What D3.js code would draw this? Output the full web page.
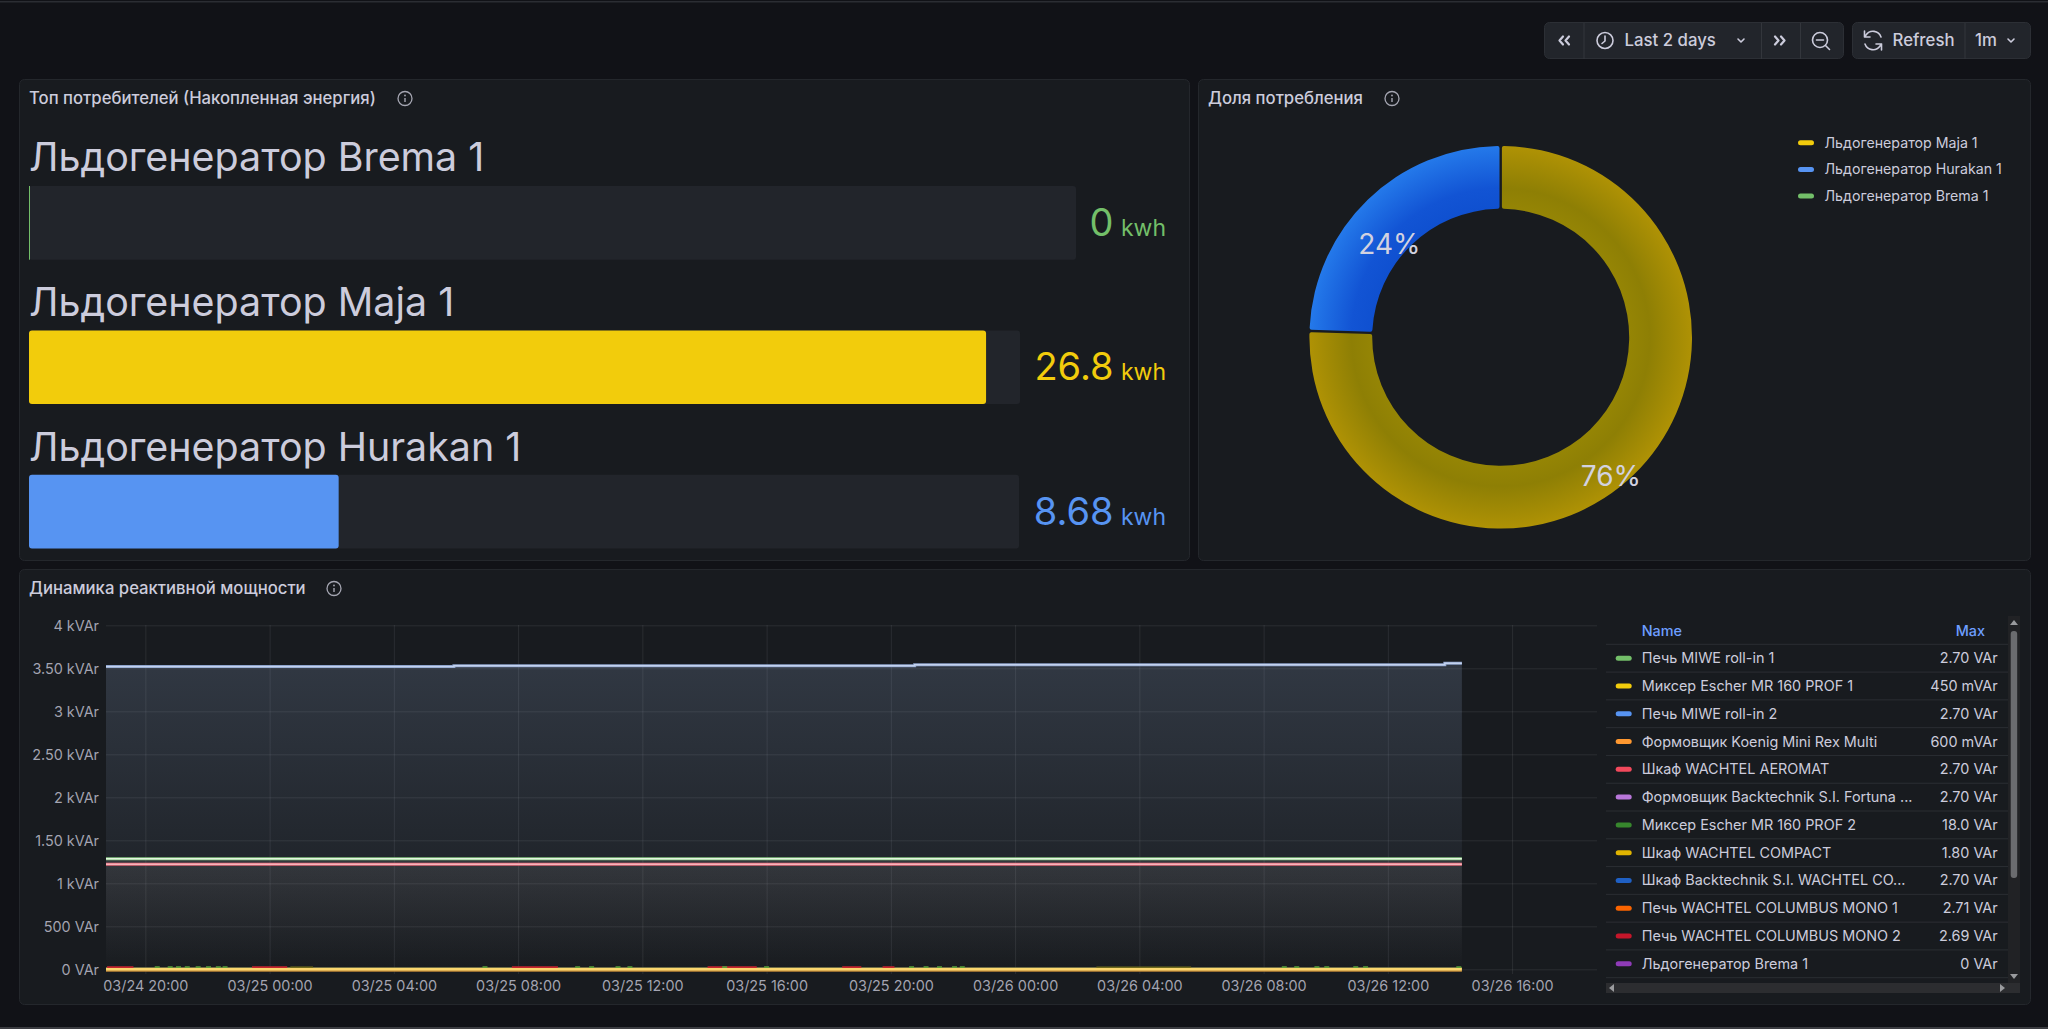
<!DOCTYPE html>
<html lang="ru">
<head>
<meta charset="utf-8">
<title>Энергопотребление</title>
<script src="https://cdn.jsdelivr.net/npm/d3@7/dist/d3.min.js"></script>
<style>
  html, body { margin: 0; padding: 0; background: #111217; overflow: hidden; }
  svg { display: block; font-family: Inter, "Noto Sans", sans-serif; }
  .axis path { display: none; }
  .axis line { stroke: #ccccdc; stroke-opacity: 0.1; }
  .axis text { fill: #ccccdc; fill-opacity: 0.78; font-size: 14.4px; font-family: Inter, sans-serif; }
</style>
</head>
<body>
<script>
// Accumulated energy per ice maker, kWh
const gaugeNames = ["Льдогенератор Brema 1", "Льдогенератор Maja 1", "Льдогенератор Hurakan 1"];
const gaugeValues = [0, 26.8, 8.68];
const gaugeLabels = ["0", "26.8", "8.68"];
const gaugeColors = ["#73bf69", "#f2cc0c", "#5794f2"];
const gaugeUnit = "kwh";
const gaugeMax = 27.75;

// Share of consumption
const shareNames = ["Льдогенератор Maja 1", "Льдогенератор Hurakan 1", "Льдогенератор Brema 1"];
const shareValues = [26.8, 8.68, 0];
const shareColors = ["#f2cc0c", "#5794f2", "#73bf69"];

// Reactive power over time, VAr
const timeDomain = ["03/24 18:44", "03/26 18:44"];
const timeTicks = ["03/24 20:00", "03/25 00:00", "03/25 04:00", "03/25 08:00", "03/25 12:00", "03/25 16:00",
  "03/25 20:00", "03/26 00:00", "03/26 04:00", "03/26 08:00", "03/26 12:00", "03/26 16:00"];
const powerTicks = [0, 500, 1000, 1500, 2000, 2500, 3000, 3500, 4000];
const powerTickLabels = ["0 VAr", "500 VAr", "1 kVAr", "1.50 kVAr", "2 kVAr", "2.50 kVAr", "3 kVAr", "3.50 kVAr", "4 kVAr"];

const totalTimes = ["03/24 18:44", "03/25 05:56", "03/25 20:46", "03/26 13:50", "03/26 14:23"];
const totalValues = [3520, 3530, 3542, 3558, 3558];
const flatTimes = ["03/24 18:44", "03/26 14:23"];
const upperFlat = [1286, 1286];
const lowerFlat = [1222, 1222];
const smallLoadUpper = [13, 13];
const smallLoadMiddle = [0, 0];
const smallLoadLower = [-15, -15];

// Short loads near zero: bursts of the red series, blips of the green one
const redBursts = [["03/24 18:46", "03/24 19:37"], ["03/24 23:26", "03/25 00:34"], ["03/25 07:48", "03/25 09:17"],
  ["03/25 14:06", "03/25 15:41"], ["03/25 18:26", "03/25 19:03"], ["03/25 19:44", "03/25 20:07"]];
const mixedBursts = [["03/25 00:40", "03/25 01:24"], ["03/26 02:37", "03/26 05:40"]];
const greenBlips = ["03/24 20:23", "03/24 20:48", "03/24 21:04", "03/24 21:21", "03/24 21:42", "03/24 22:02",
  "03/24 22:21", "03/24 22:34", "03/25 06:56", "03/25 09:55", "03/25 10:22", "03/25 11:13", "03/25 11:36",
  "03/25 14:39", "03/25 16:00", "03/25 20:40", "03/25 21:08", "03/25 21:34", "03/25 22:03", "03/25 22:18",
  "03/26 08:40", "03/26 09:04", "03/26 09:43", "03/26 10:02", "03/26 10:58", "03/26 11:17", "03/26 14:17"];
const blipValue = 24;

// Legend table
const legendNames = ["Печь MIWE roll-in 1", "Миксер Escher MR 160 PROF 1", "Печь MIWE roll-in 2",
  "Формовщик Koenig Mini Rex Multi", "Шкаф WACHTEL AEROMAT", "Формовщик Backtechnik S.I. Fortuna ...",
  "Миксер Escher MR 160 PROF 2", "Шкаф WACHTEL COMPACT", "Шкаф Backtechnik S.I. WACHTEL CO...",
  "Печь WACHTEL COLUMBUS MONO 1", "Печь WACHTEL COLUMBUS MONO 2", "Льдогенератор Brema 1"];
const legendMax = ["2.70 VAr", "450 mVAr", "2.70 VAr", "600 mVAr", "2.70 VAr", "2.70 VAr",
  "18.0 VAr", "1.80 VAr", "2.70 VAr", "2.71 VAr", "2.69 VAr", "0 VAr"];
const legendColors = ["#73bf69", "#f2cc0c", "#5794f2", "#ff9830", "#f2495c", "#b877d9",
  "#37872d", "#e0b400", "#1f60c4", "#fa6400", "#c4162a", "#8f3bb8"];

const TEXT = "#ccccdc";
const svg = d3.select("body").append("svg").attr("width", 2048).attr("height", 1029);
const defs = svg.append("defs");

svg.append("rect").attr("width", 2048).attr("height", 1029).attr("fill", "#111217");
svg.append("rect").attr("y", 1).attr("width", 2048).attr("height", 1.5).attr("fill", "#2b2d33");
svg.append("rect").attr("y", 1027).attr("width", 2048).attr("height", 2).attr("fill", "#3b3c41");

function panel(x, y, w, h, title, iconX) {
  svg.append("rect").attr("x", x + .5).attr("y", y + .5).attr("width", w).attr("height", h).attr("rx", 5)
    .attr("fill", "#181b1f").attr("stroke", "#24272c");
  svg.append("text").attr("x", x + 10).attr("y", y + 25.2).attr("fill", TEXT)
    .attr("font-size", 16.7).attr("font-weight", 500).text(title);
  const cy = y + 19.5;
  const icon = svg.append("g").attr("transform", `translate(${iconX},${cy})`);
  icon.append("circle").attr("r", 7).attr("fill", "none").attr("stroke", "#a5a6b2").attr("stroke-width", 1.3);
  icon.append("line").attr("y1", -0.5).attr("y2", 3.5).attr("stroke", "#a5a6b2").attr("stroke-width", 1.4);
  icon.append("circle").attr("cy", -3).attr("r", .9).attr("fill", "#a5a6b2");
}

panel(19, 79, 1170, 481, "Топ потребителей (Накопленная энергия)", 405);
panel(1198, 79, 832, 481, "Доля потребления", 1392);
panel(19, 569, 2011, 435, "Динамика реактивной мощности", 334);

/* ---------- toolbar ---------- */
function group(x0, x1, seps) {
  svg.append("rect").attr("x", x0 + .5).attr("y", 22.5).attr("width", x1 - x0).attr("height", 36).attr("rx", 5)
    .attr("fill", "#22252b").attr("stroke", "#2c2f35");
  seps.forEach(s => svg.append("line").attr("x1", s).attr("x2", s).attr("y1", 23).attr("y2", 59).attr("stroke", "#33363c"));
}
function stroke(sel, w) {
  return sel.attr("fill", "none").attr("stroke", TEXT).attr("stroke-width", w || 1.6)
    .attr("stroke-linecap", "round").attr("stroke-linejoin", "round");
}
group(1544, 1843, [1584, 1761.5, 1800.5]);
group(1852, 2030, [1965]);
stroke(svg.append("path"), 2.2).attr("d", "M1563 36.500l-3.500 4 3.500 4M1569 36.500l-3.500 4 3.500 4");
stroke(svg.append("path"), 2.2).attr("d", "M1778 36.500l3.500 4-3.500 4M1772 36.500l3.500 4-3.500 4").attr("transform", "translate(3,0)");
stroke(svg.append("circle")).attr("cx", 1605).attr("cy", 40.5).attr("r", 8);
stroke(svg.append("path")).attr("d", "M1605 36v5l-3 2.5");
const toolFont = 16.8;
svg.append("text").attr("x", 1624.5).attr("y", 46).attr("fill", TEXT).attr("font-size", toolFont).attr("font-weight", 500).text("Last 2 days");
stroke(svg.append("path")).attr("d", "M1738 39l3 3 3-3");
stroke(svg.append("circle")).attr("cx", 1820).attr("cy", 40).attr("r", 7.5);
stroke(svg.append("path")).attr("d", "M1816.5 40h7M1825.5 45.5l4 4");
stroke(svg.append("path")).attr("d", "M1881 37a8.5 8.5 0 0 0-15-2l-1.500 2M1864.500 31v6h5.500M1865 44a8.500 8.500 0 0 0 15 2l1.500-2M1881.500 50v-6h-5.500");
svg.append("text").attr("x", 1892.5).attr("y", 46).attr("fill", TEXT).attr("font-size", toolFont).attr("font-weight", 500).text("Refresh");
svg.append("text").attr("x", 1975).attr("y", 46).attr("fill", TEXT).attr("font-size", toolFont).attr("font-weight", 500).text("1m");
stroke(svg.append("path")).attr("d", "M2008 39l3 3 3-3");

/* ---------- gauges ---------- */
const trackLeft = 29;
const trackRights = [1076, 1020, 1019];
const rowBand = d3.scaleBand().domain(gaugeNames)
  .range([186, 186 + 144.4 * 2 + 73.7]).paddingInner(1 - 73.7 / 144.4);
gaugeNames.forEach((name, i) => {
  const y = rowBand(name), h = rowBand.bandwidth();
  const width = trackRights[i] - trackLeft;
  const gx = d3.scaleLinear().domain([0, gaugeMax]).range([0, width]);
  svg.append("text").attr("x", 29).attr("y", y - 15 + i * 0.5).attr("fill", TEXT).attr("font-size", 39.4).text(name);
  svg.append("rect").attr("x", trackLeft).attr("y", y).attr("width", width).attr("height", h).attr("rx", 3).attr("fill", "#22252b");
  svg.append("rect").attr("x", trackLeft).attr("y", y).attr("width", Math.max(gx(gaugeValues[i]), 1)).attr("height", h)
    .attr("rx", gaugeValues[i] ? 3 : 0).attr("fill", gaugeColors[i]);
  svg.append("text").attr("x", 1113.5).attr("y", y + 50).attr("text-anchor", "end").attr("fill", gaugeColors[i])
    .attr("font-size", 38).text(gaugeLabels[i]);
  svg.append("text").attr("x", 1121).attr("y", y + 50).attr("fill", gaugeColors[i]).attr("font-size", 23).text(gaugeUnit);
});

/* ---------- donut ---------- */
const cx = 1500.7, cy = 337.3, rOuter = 191.3, rInner = 128.5;
const pie = d3.pie().sort(null).value(d => d)(shareValues);
const arc = d3.arc().innerRadius(rInner).outerRadius(rOuter).cornerRadius(2).padAngle(0.016).padRadius(150);
const labelArc = d3.arc().innerRadius(160).outerRadius(160);
const ringStops = [
  [["#958505", 0.67], ["#8e7f05", 0.78], ["#af9205", 1]],
  [["#0f50d0", 0.67], ["#1254d4", 0.78], ["#2479ea", 1]],
  [["#4b8a44", 0.67], ["#73bf69", 1]]
];
ringStops.forEach((stops, i) => {
  const g = defs.append("radialGradient").attr("id", "ring" + i).attr("gradientUnits", "userSpaceOnUse")
    .attr("cx", 0).attr("cy", 0).attr("r", rOuter);
  stops.forEach(s => g.append("stop").attr("offset", s[1]).attr("stop-color", s[0]));
});
const donut = svg.append("g").attr("transform", `translate(${cx},${cy})`);
donut.selectAll("path").data(pie.filter(d => d.value > 0)).join("path")
  .attr("d", arc).attr("fill", d => `url(#ring${d.index})`);
const total = d3.sum(shareValues);
donut.selectAll("text").data(pie.filter(d => d.value > 0)).join("text")
  .attr("x", d => labelArc.centroid(d)[0] + (d.index ? 0 : -1)).attr("y", d => labelArc.centroid(d)[1] + (d.index ? 32 : 34))
  .attr("text-anchor", "middle").attr("fill", "#d2d2e0").attr("font-size", 28)
  .text(d => d3.format(".0%")(d.value / total));

const pieLegend = svg.append("g");
shareNames.forEach((n, i) => {
  const y = 142.7 + i * 26.7;
  pieLegend.append("rect").attr("x", 1798).attr("y", y - 2.5).attr("width", 16).attr("height", 5).attr("rx", 2.5).attr("fill", shareColors[i]);
  pieLegend.append("text").attr("x", 1824.5).attr("y", y + 5).attr("fill", TEXT).attr("font-size", 14.2).text(n);
});

/* ---------- time series ---------- */
const parseT = d3.utcParse("%Y/%m/%d %H:%M");
const t = s => parseT("2025/" + s);
const x = d3.scaleUtc().domain(timeDomain.map(t)).range([106, 1597]);
const y = d3.scaleLinear().domain([0, 4000]).range([969.3, 625.3]);

const yAxis = d3.axisLeft(y).tickValues(powerTicks).tickSize(0)
  .tickFormat((d, i) => powerTickLabels[i]);
const yg = svg.append("g").attr("class", "axis").attr("transform", "translate(106,0)").call(yAxis);
yg.selectAll("text").attr("x", -7).attr("dy", "0.39em");
yg.selectAll("line").attr("x1", 0).attr("x2", 1491);

const xAxis = d3.axisBottom(x).tickValues(timeTicks.map(t)).tickSize(0).tickFormat(d3.utcFormat("%m/%d %H:%M"));
const xg = svg.append("g").attr("class", "axis").attr("transform", "translate(0,974)").call(xAxis);
xg.selectAll("line").attr("y1", -349).attr("y2", 0);
xg.selectAll("text").attr("y", 7);

function fade(id, top, bottom, color, a0, a1) {
  const g = defs.append("linearGradient").attr("id", id).attr("gradientUnits", "userSpaceOnUse")
    .attr("x1", 0).attr("x2", 0).attr("y1", top).attr("y2", bottom);
  g.append("stop").attr("offset", 0).attr("stop-color", color).attr("stop-opacity", a0);
  g.append("stop").attr("offset", 1).attr("stop-color", color).attr("stop-opacity", a1);
}
fade("fadeTotal", y(3558), y(0), "#a9c4f0", 0.17, 0);
fade("fadeFlat", y(1286), y(0), "#e6dcd8", 0.1, 0);

const areaOf = (times, values) => d3.area().curve(d3.curveStepAfter)
  .x((d, i) => x(t(times[i]))).y0(y(0)).y1(d => y(d))(values);
const lineOf = (times, values) => d3.line().curve(d3.curveStepAfter)
  .x((d, i) => x(t(times[i]))).y(d => y(d))(values);

svg.append("path").attr("d", areaOf(totalTimes, totalValues)).attr("fill", "url(#fadeTotal)");
svg.append("path").attr("d", areaOf(flatTimes, upperFlat)).attr("fill", "url(#fadeFlat)");

function drawLine(times, values, color, width) {
  svg.append("path").attr("d", lineOf(times, values)).attr("fill", "none").attr("stroke", color).attr("stroke-width", width);
}
drawLine(totalTimes, totalValues, "#8ea4cc", 3);
drawLine(totalTimes, totalValues, "#c3d2ee", 1.4);
drawLine(flatTimes, upperFlat, "#86c882", 3);
drawLine(flatTimes, upperFlat, "#e4f5de", 1.4);
drawLine(flatTimes, lowerFlat, "#ea6a7a", 3);
drawLine(flatTimes, lowerFlat, "#f7b4bb", 1.4);

drawLine(flatTimes, smallLoadUpper, "#8d8a52", 2);
drawLine(flatTimes, smallLoadLower, "#c08a38", 2.4);
redBursts.forEach(b => drawLine(b, [blipValue, blipValue], "#c4262e", 2));
mixedBursts.forEach(b => drawLine(b, [blipValue, blipValue], "#6e6a1e", 1.6));
greenBlips.forEach(s => {
  const c = x(t(s));
  svg.append("line").attr("x1", c - 2.5).attr("x2", c + 2.5).attr("y1", y(blipValue)).attr("y2", y(blipValue))
    .attr("stroke", "#5c9e3a").attr("stroke-width", 2);
});
drawLine(flatTimes, smallLoadMiddle, "#fbd66e", 2.4);

/* ---------- legend table ---------- */
const tbl = svg.append("g");
const tableLeft = 1606, tableRight = 2008;
const rowY = d3.scaleLinear().domain([0, 12]).range([644.3, 977.7]);
tbl.append("text").attr("x", 1641.7).attr("y", 635.5).attr("fill", "#6e9fff").attr("font-size", 14.4).attr("font-weight", 500).text("Name");
tbl.append("text").attr("x", 1985).attr("y", 635.5).attr("text-anchor", "end").attr("fill", "#6e9fff").attr("font-size", 14.4).attr("font-weight", 500).text("Max");
d3.range(13).forEach(i => tbl.append("line").attr("x1", tableLeft).attr("x2", tableRight)
  .attr("y1", rowY(i)).attr("y2", rowY(i)).attr("stroke", "#2b2e33"));
legendNames.forEach((n, i) => {
  const c = (rowY(i) + rowY(i + 1)) / 2;
  tbl.append("rect").attr("x", 1615.7).attr("y", c - 2.5).attr("width", 16).attr("height", 5).attr("rx", 2.5).attr("fill", legendColors[i]);
  tbl.append("text").attr("x", 1641.7).attr("y", c + 5).attr("fill", TEXT).attr("font-size", 14.4).text(n);
  tbl.append("text").attr("x", 1997.7).attr("y", c + 5).attr("text-anchor", "end").attr("fill", TEXT).attr("font-size", 14.4).text(legendMax[i]);
});

// Scrollbars of the legend table
svg.append("rect").attr("x", 2008).attr("y", 616).attr("width", 12).attr("height", 377).attr("fill", "#212225");
svg.append("rect").attr("x", 1606).attr("y", 983).attr("width", 414).attr("height", 10).attr("fill", "#2c2d30");
svg.append("rect").attr("x", 2010.7).attr("y", 631).attr("width", 6.5).attr("height", 247).attr("rx", 3).attr("fill", "#6b6c6f");
const arrow = "#9a9b9e";
svg.append("path").attr("d", "M2014 620l4 5h-8z").attr("fill", arrow);
svg.append("path").attr("d", "M2014 979l4-5h-8z").attr("fill", arrow);
svg.append("path").attr("d", "M1609 988l5-4v8z").attr("fill", arrow);
svg.append("path").attr("d", "M2005 988l-5-4v8z").attr("fill", arrow);
</script>
</body>
</html>
